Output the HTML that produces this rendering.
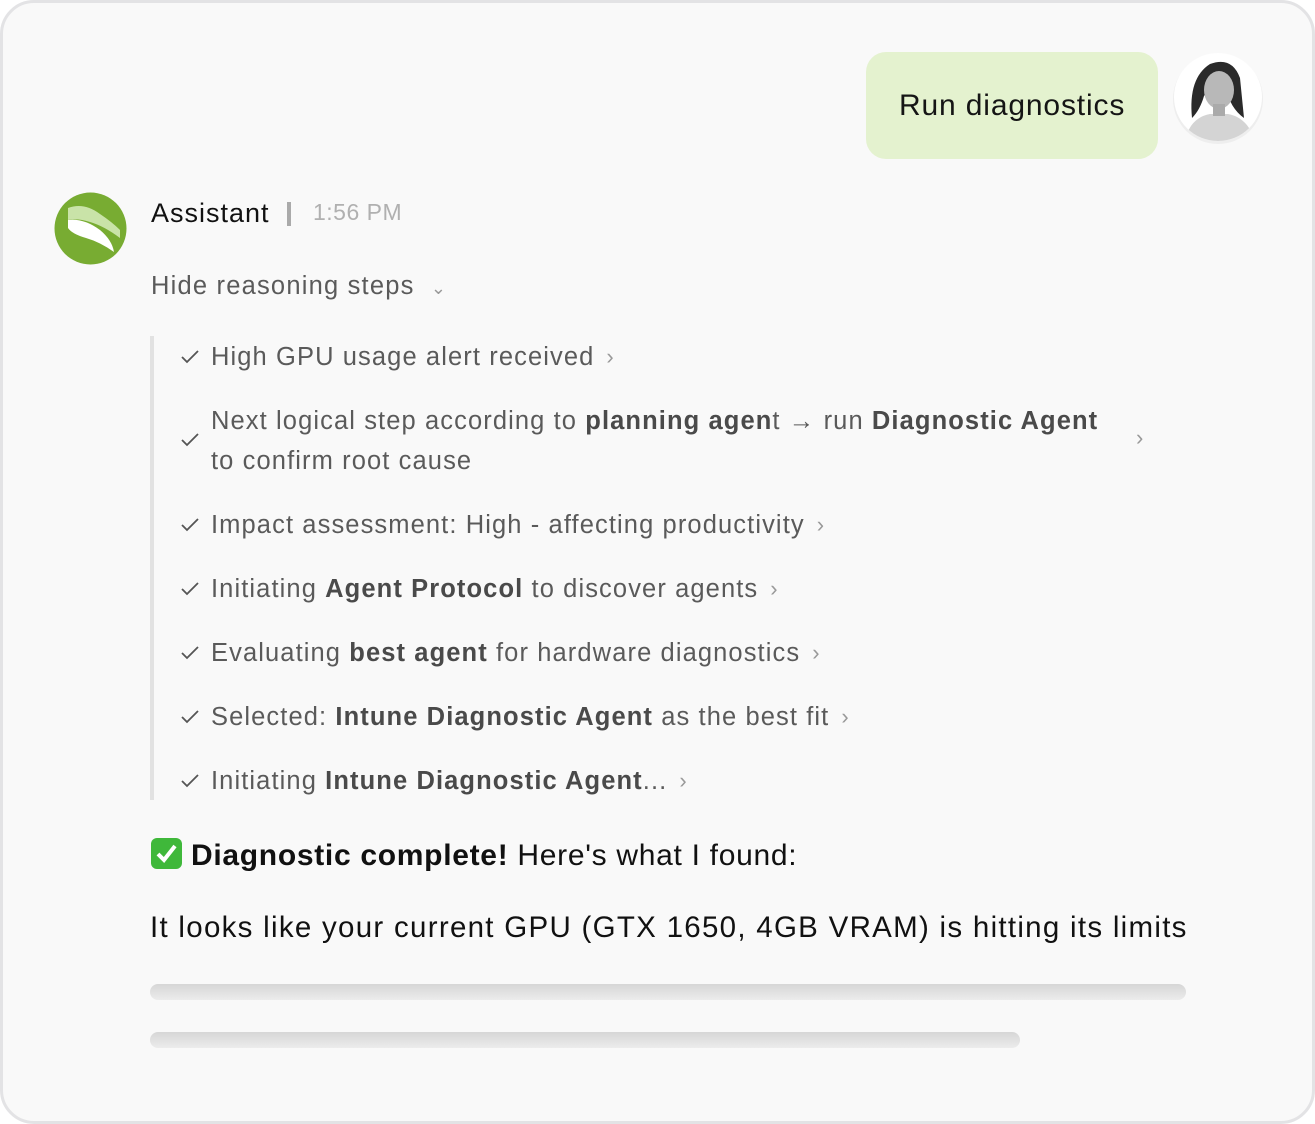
<!DOCTYPE html>
<html><head><meta charset="utf-8"><style>
html,body{margin:0;padding:0;width:1315px;height:1124px;background:#fff;overflow:hidden;font-family:"Liberation Sans",sans-serif}
.card{position:absolute;left:0;top:0;width:1309px;height:1118px;border:3px solid #e3e3e5;border-radius:34px;background:#f9f9f9}
.a{position:absolute;white-space:nowrap}
.step{position:absolute;left:211px;font-size:25.5px;color:#5a5a5a;line-height:36px;white-space:nowrap;letter-spacing:1.1px}
.step b{color:#4a4a4a}
.ck{position:absolute;left:180px;width:20px;height:20px}
.chev{display:inline-block;margin-left:12px;color:#999;font-size:22px;vertical-align:1px}
.bar{position:absolute;left:150px;height:16px;border-radius:8px;background:linear-gradient(#d6d6d6,#ececec)}
</style></head><body>
<div class="card"></div>
<div class="a" style="left:866px;top:52px;width:292px;height:107px;background:#e4f2cf;border-radius:20px"></div>
<div class="a" style="left:899px;top:89px;font-size:30px;color:#151515;letter-spacing:0.85px">Run diagnostics</div>
<svg class="a" style="left:1170px;top:48px" width="98" height="98" viewBox="0 0 98 98">
<defs><clipPath id="c"><circle cx="48" cy="49" r="44"/></clipPath></defs>
<circle cx="48" cy="51" r="45" fill="#eee"/>
<circle cx="48" cy="49" r="44" fill="#fff"/>
<g clip-path="url(#c)">
<path d="M22 70 Q18 30 40 16 Q62 8 70 30 L74 70 Q60 60 56 40 Q46 30 34 48 Q30 62 22 70Z" fill="#2a2a2a"/>
<ellipse cx="49" cy="42" rx="15" ry="19" fill="#b8b8b8"/>
<path d="M14 98 Q18 70 40 66 L58 66 Q80 70 86 98Z" fill="#d4d4d4"/>
<rect x="43" y="56" width="12" height="12" fill="#aaa"/>
</g></svg>
<svg class="a" style="left:54px;top:192px" width="73" height="73" viewBox="0 0 73 73">
<circle cx="36.5" cy="36.5" r="36" fill="#78ac32"/>
<path d="M14 16 Q30 10 46 22 Q58 30 66 38 L66 46 Q50 34 36 30 Q24 26 14 28Z" fill="#c9e3a8"/>
<path d="M14 28 Q30 26 46 38 Q58 48 60 60 Q46 50 32 46 Q18 42 14 36Z" fill="#fff"/>
</svg>
<div class="a" style="left:151px;top:198px;font-size:27px;color:#111;letter-spacing:1px">Assistant</div>
<div class="a" style="left:287px;top:202px;width:4px;height:24px;background:#aaa"></div>
<div class="a" style="left:313px;top:199px;font-size:23px;color:#b0b0b0;letter-spacing:0.5px">1:56 PM</div>
<div class="a" style="left:151px;top:272px;font-size:25.5px;color:#5a5a5a;letter-spacing:1.2px">Hide reasoning steps <span style="color:#999;font-size:18px;margin-left:8px">&#8964;</span></div>
<div class="a" style="left:150px;top:336px;width:4px;height:464px;background:#e2e2e2"></div>

<svg class="ck" style="top:347px" viewBox="0 0 20 20"><path d="M2 10 L7 15 L18 4" fill="none" stroke="#555" stroke-width="1.8"/></svg>
<div class="step" style="top:339px">High GPU usage alert received<span class="chev">&#8250;</span></div>

<svg class="ck" style="top:430px" viewBox="0 0 20 20"><path d="M2 10 L7 15 L18 4" fill="none" stroke="#555" stroke-width="1.8"/></svg>
<div class="step" style="top:403px">Next logical step according to <b>planning agen</b>t &#8594; run <b>Diagnostic Agent</b></div>
<div class="step" style="top:443px">to confirm root cause</div>
<div class="a" style="left:1136px;top:425px;color:#999;font-size:22px">&#8250;</div>

<svg class="ck" style="top:515px" viewBox="0 0 20 20"><path d="M2 10 L7 15 L18 4" fill="none" stroke="#555" stroke-width="1.8"/></svg>
<div class="step" style="top:507px">Impact assessment: High - affecting productivity<span class="chev">&#8250;</span></div>

<svg class="ck" style="top:579px" viewBox="0 0 20 20"><path d="M2 10 L7 15 L18 4" fill="none" stroke="#555" stroke-width="1.8"/></svg>
<div class="step" style="top:571px">Initiating <b>Agent Protocol</b> to discover agents<span class="chev">&#8250;</span></div>

<svg class="ck" style="top:643px" viewBox="0 0 20 20"><path d="M2 10 L7 15 L18 4" fill="none" stroke="#555" stroke-width="1.8"/></svg>
<div class="step" style="top:635px">Evaluating <b>best agent</b> for hardware diagnostics<span class="chev">&#8250;</span></div>

<svg class="ck" style="top:707px" viewBox="0 0 20 20"><path d="M2 10 L7 15 L18 4" fill="none" stroke="#555" stroke-width="1.8"/></svg>
<div class="step" style="top:699px">Selected: <b>Intune Diagnostic Agent</b> as the best fit<span class="chev">&#8250;</span></div>

<svg class="ck" style="top:771px" viewBox="0 0 20 20"><path d="M2 10 L7 15 L18 4" fill="none" stroke="#555" stroke-width="1.8"/></svg>
<div class="step" style="top:763px">Initiating <b>Intune Diagnostic Agent</b>...<span class="chev">&#8250;</span></div>

<svg class="a" style="left:150px;top:837px" width="33" height="33" viewBox="0 0 33 33"><rect x="1" y="1" width="31" height="31" rx="6" fill="#3fb83a"/><path d="M8 17 L14 23 L25 9" fill="none" stroke="#fff" stroke-width="4"/></svg>
<div class="a" style="left:191px;top:839px;font-size:30px;color:#111;letter-spacing:0.7px"><b>Diagnostic complete!</b> Here's what I found:</div>
<div class="a" style="left:150px;top:911px;font-size:29.5px;color:#111;letter-spacing:1.28px">It looks like your current GPU (GTX 1650, 4GB VRAM) is hitting its limits</div>
<div class="bar" style="top:984px;width:1036px"></div>
<div class="bar" style="top:1032px;width:870px"></div>
</body></html>
